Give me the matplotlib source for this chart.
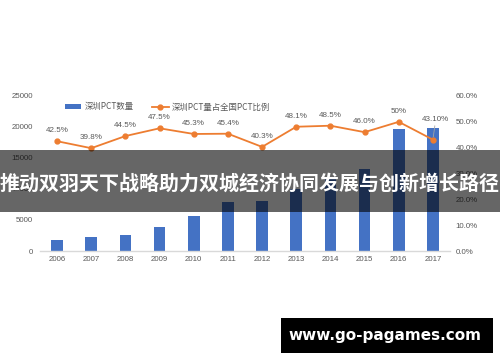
import matplotlib
matplotlib.use("Agg")
import matplotlib.pyplot as plt
from matplotlib.patches import Rectangle

years = ["2006", "2007", "2008", "2009", "2010", "2011", "2012", "2013", "2014", "2015", "2016", "2017"]
pct_count = [1770, 2300, 2630, 3870, 5650, 7900, 8000, 10000, 11600, 13300, 19700, 19800]
pct_share = [42.5, 39.8, 44.5, 47.5, 45.3, 45.4, 40.3, 48.1, 48.5, 46.0, 50.0, 43.1]
share_labels = ["42.5%", "39.8%", "44.5%", "47.5%", "45.3%", "45.4%", "40.3%", "48.1%", "48.5%", "46.0%", "50%", "43.10%"]
left_ticks = [0, 5000, 10000, 15000, 20000, 25000]
right_ticks = [0, 10, 20, 30, 40, 50, 60]
legend_labels = ["深圳PCT数量", "深圳PCT量占全国PCT比例"]
banner_text = "推动双羽天下战略助力双城经济协同发展与创新增长路径"
watermark = "www.go-pagames.com"

plt.rcParams['font.family'] = ['Noto Sans CJK SC', 'DejaVu Sans']

W, H = 500, 362
fig = plt.figure(figsize=(W / 100, H / 100), dpi=100)
fig.patch.set_facecolor("white")

ax = fig.add_axes([40 / W, 1 - 251 / H, 410 / W, 155 / H])
ax2 = ax.twinx()

blue = "#4472C4"
orange = "#ED7D31"
grey = "#595959"

x = list(range(len(years)))
bars = ax.bar(x, pct_count, width=0.34, color=blue, zorder=2, label=legend_labels[0])
ax.set_xlim(-0.5, len(years) - 0.5)
ax.set_ylim(0, 25000)
ax.set_yticks(left_ticks)
ax.set_yticklabels([str(v) for v in left_ticks])
ax.set_xticks(x)
ax.set_xticklabels(years)

line, = ax2.plot(x, pct_share, color=orange, lw=1.3, marker="o", ms=3.5, zorder=3, label=legend_labels[1])
ax2.set_ylim(0, 60)
ax2.set_yticks(right_ticks)
ax2.set_yticklabels([f"{v:.1f}%" for v in right_ticks])

for a in (ax, ax2):
    for s in a.spines.values():
        s.set_visible(False)
    a.tick_params(length=0, labelsize=5.7, labelcolor=grey)
ax.spines["bottom"].set_visible(True)
ax.spines["bottom"].set_color("#d9d9d9")
ax.spines["bottom"].set_linewidth(1)
ax.tick_params(axis="y", pad=5)
ax.tick_params(axis="x", pad=3.5)
ax2.tick_params(axis="y", pad=4)
for lab in ax.get_xticklabels() + ax.get_yticklabels() + ax2.get_yticklabels():
    lab.set_family(['Liberation Sans', 'DejaVu Sans'])

for i, (v, lab) in enumerate(zip(pct_share, share_labels)):
    if i == len(pct_share) - 1:
        ax2.annotate(lab, xy=(i, v), xytext=(2, 12), textcoords="offset points",
                     ha="center", va="bottom", fontsize=5.8, color=grey,
                     family=['Liberation Sans', 'DejaVu Sans'],
                     arrowprops=dict(arrowstyle="-", color="#a6a6a6", lw=0.6, shrinkA=0, shrinkB=2))
    else:
        ax2.annotate(lab, xy=(i, v), xytext=(0, 5), textcoords="offset points",
                     ha="center", va="bottom", fontsize=5.8, color=grey,
                     family=['Liberation Sans', 'DejaVu Sans'])

fig.legend(handles=[bars, line], labels=legend_labels, loc="center left",
           bbox_to_anchor=(57 / W, 1 - 107 / H), ncol=2, frameon=False,
           fontsize=6, labelcolor=grey, handlelength=2.0, handleheight=0.6,
           columnspacing=2.2, handletextpad=0.4)

# banner
fig.add_artist(Rectangle((0, 1 - 212 / H), 1, 62 / H, transform=fig.transFigure,
                         facecolor="black", alpha=0.6, edgecolor="none", zorder=10))
fig.text(0.5, 1 - 183 / H, banner_text, ha="center", va="center", color="white",
         fontsize=14.4, fontweight="bold", zorder=11)

# watermark
fig.add_artist(Rectangle((281 / W, 1 - 353 / H), 212 / W, 35 / H, transform=fig.transFigure,
                         facecolor="black", edgecolor="none", zorder=10))
fig.text(385 / W, 1 - 335.5 / H, watermark, ha="center", va="center", color="white",
         fontsize=11, fontweight="bold", family=['DejaVu Sans'], zorder=11)

fig.savefig("out.png", dpi=100, facecolor="white")
